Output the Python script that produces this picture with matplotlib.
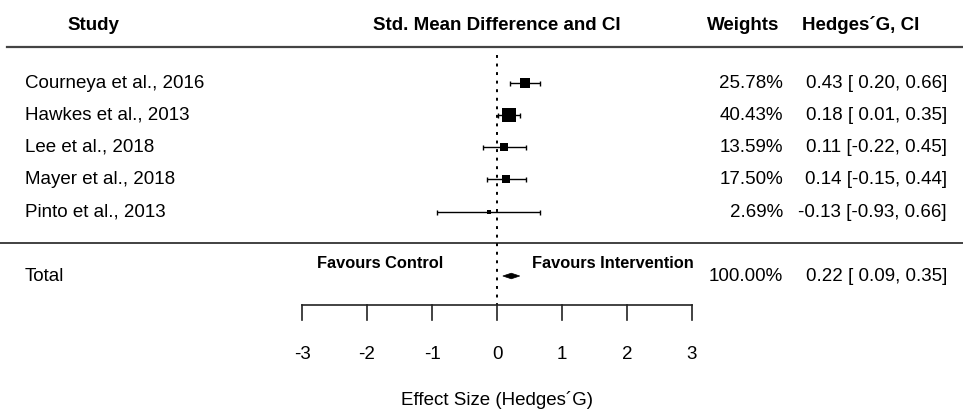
import matplotlib.pyplot as plt
import numpy as np

plt.rcParams['font.family'] = ['Liberation Sans', 'DejaVu Sans']

# data
studies = ["Courneya et al., 2016", "Hawkes et al., 2013", "Lee et al., 2018",
           "Mayer et al., 2018", "Pinto et al., 2013"]
est = [0.43, 0.18, 0.11, 0.14, -0.13]
lo = [0.20, 0.01, -0.22, -0.15, -0.93]
hi = [0.66, 0.35, 0.45, 0.44, 0.66]
weights = [25.78, 40.43, 13.59, 17.50, 2.69]
total_est, total_lo, total_hi, total_w = 0.22, 0.09, 0.35, 100.00
ticks = [-3, -2, -1, 0, 1, 2, 3]

W, H = 963, 411
px = 65.0   # pixels per effect-size unit
x0 = 497    # pixel of effect 0

fig = plt.figure(figsize=(W / 100, H / 100), dpi=100)
ax = fig.add_axes([0, 0, 1, 1])
ax.set_xlim(-x0 / px, (W - x0) / px)
ax.set_ylim(H, 0)
ax.axis('off')

def X(p):
    # pixel column -> data x
    return (p - x0) / px

row_y = [83, 115, 147, 179, 212]
total_y = 276
fs = 13.5

# headers
hdr = dict(fontsize=13.5, fontweight='bold', ha='center', va='center')
ax.text(X(93), 25, "Study", **hdr)
ax.text(0, 25, "Std. Mean Difference and CI", **hdr)
ax.text(X(743), 25, "Weights", **hdr)
ax.text(X(861), 25, "Hedges´G, CI", **hdr)

ax.plot([X(7), X(W)], [47.5, 47.5], color='#444444', lw=1.6)
ax.plot([X(0), X(W)], [243, 243], color='#333333', lw=1.3)

# zero reference line
ax.plot([0, 0], [55, 305], color='black', lw=1.4, ls=(0, (1.5, 2.9)))

for i, s in enumerate(studies):
    y = row_y[i]
    ax.text(X(25), y, s, fontsize=fs, ha='left', va='center')
    ax.errorbar(est[i], y, xerr=[[est[i] - lo[i]], [hi[i] - est[i]]],
                fmt='none', ecolor='black', elinewidth=1, capsize=1.8, capthick=1)
    side = max(2.05 * np.sqrt(weights[i]), 4)
    ax.plot(est[i], y, marker='s', color='black', ms=side * 0.72, mew=0)
    ax.text(X(783), y, f"{weights[i]:.2f}%", fontsize=fs, ha='right', va='center')
    ax.text(X(947), y, f"{est[i]:.2f} [{lo[i]:5.2f}, {hi[i]:.2f}]",
            fontsize=fs, ha='right', va='center')

# total row
ax.text(X(25), total_y, "Total", fontsize=fs, ha='left', va='center')
ax.fill([total_lo, total_est, total_hi, total_est],
        [total_y, total_y - 2.8, total_y, total_y + 2.8], color='black', lw=0.5, ec='black')
ax.text(X(783), total_y, f"{total_w:.2f}%", fontsize=fs, ha='right', va='center')
ax.text(X(947), total_y, f"{total_est:.2f} [{total_lo:5.2f}, {total_hi:.2f}]",
        fontsize=fs, ha='right', va='center')

ax.text(X(380), 263, "Favours Control", fontsize=11.8, fontweight='bold', ha='center', va='center')
ax.text(X(613), 263, "Favours Intervention", fontsize=11.8, fontweight='bold', ha='center', va='center')

# hand-drawn effect axis
ax.plot([ticks[0], ticks[-1]], [305, 305], color='#222222', lw=1.2)
for t in ticks:
    ax.plot([t, t], [305, 320], color='#222222', lw=1.2)
    ax.text(t, 354, str(t), fontsize=fs, ha='center', va='center')
ax.text(0, 400, "Effect Size (Hedges´G)", fontsize=fs, ha='center', va='center')

fig.savefig("out.png", dpi=100)
